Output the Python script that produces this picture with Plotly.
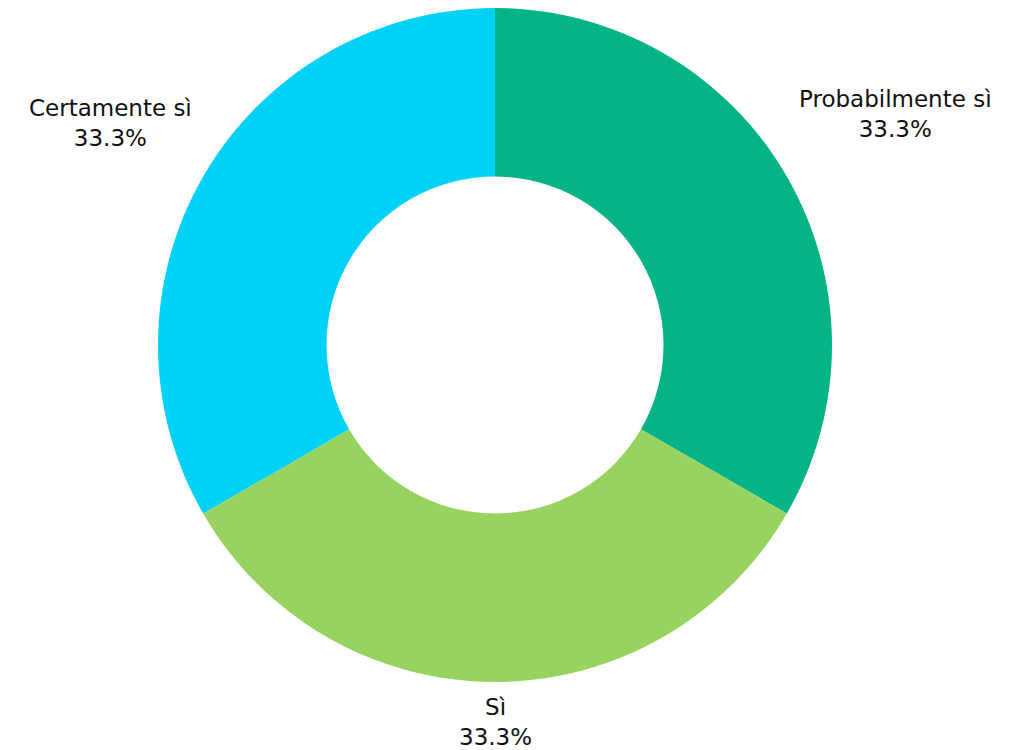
import math
import plotly.graph_objects as go

labels = ["Probabilmente sì", "Sì", "Certamente sì"]
values = [1, 1, 1]
colors = ["#04B486", "#97D45F", "#00D1F7"]

# page body has an 8px margin, so the figure is drawn 8px lower/right
OFF = 8
W, H = 1010 - OFF, 750 - OFF
CX, CY, R = 495 - OFF, 345 - OFF, 337  # pie centre / radius in px
FONT_SIZE = 23
CHAR_W = 14.2   # approx px per character of label text (reference)
HALF_H = 27     # half height of two-line label block
GAP = 13

fig = go.Figure(go.Pie(
    labels=labels,
    values=values,
    hole=0.5,
    sort=False,
    direction="clockwise",
    rotation=0,
    marker=dict(colors=colors, line=dict(width=0)),
    textinfo="none",
    hoverinfo="label+percent",
    showlegend=False,
    domain=dict(x=[(CX - R) / W, (CX + R) / W], y=[1 - (CY + R) / H, 1 - (CY - R) / H]),
))

total = sum(values)
cum = 0
for lab, v in zip(labels, values):
    theta = 2 * math.pi * (cum + v / 2) / total
    cum += v
    hw = len(lab) * CHAR_W / 2
    d = R + GAP + hw * abs(math.sin(theta)) + HALF_H * abs(math.cos(theta))
    px = CX + d * math.sin(theta)
    py = CY - d * math.cos(theta)
    fig.add_annotation(
        x=px / W, y=1 - py / H, xref="paper", yref="paper",
        text=f"{lab}<br>{v / total * 100:.1f}%",
        showarrow=False, xanchor="center", yanchor="middle", align="center",
        font=dict(family="DejaVu Sans, Noto Sans, sans-serif", size=FONT_SIZE, color="#111111"),
    )

fig.update_layout(
    width=W, height=H,
    margin=dict(l=0, r=0, t=0, b=0),
    paper_bgcolor="white",
    plot_bgcolor="white",
)

fig.write_html("out.html")
